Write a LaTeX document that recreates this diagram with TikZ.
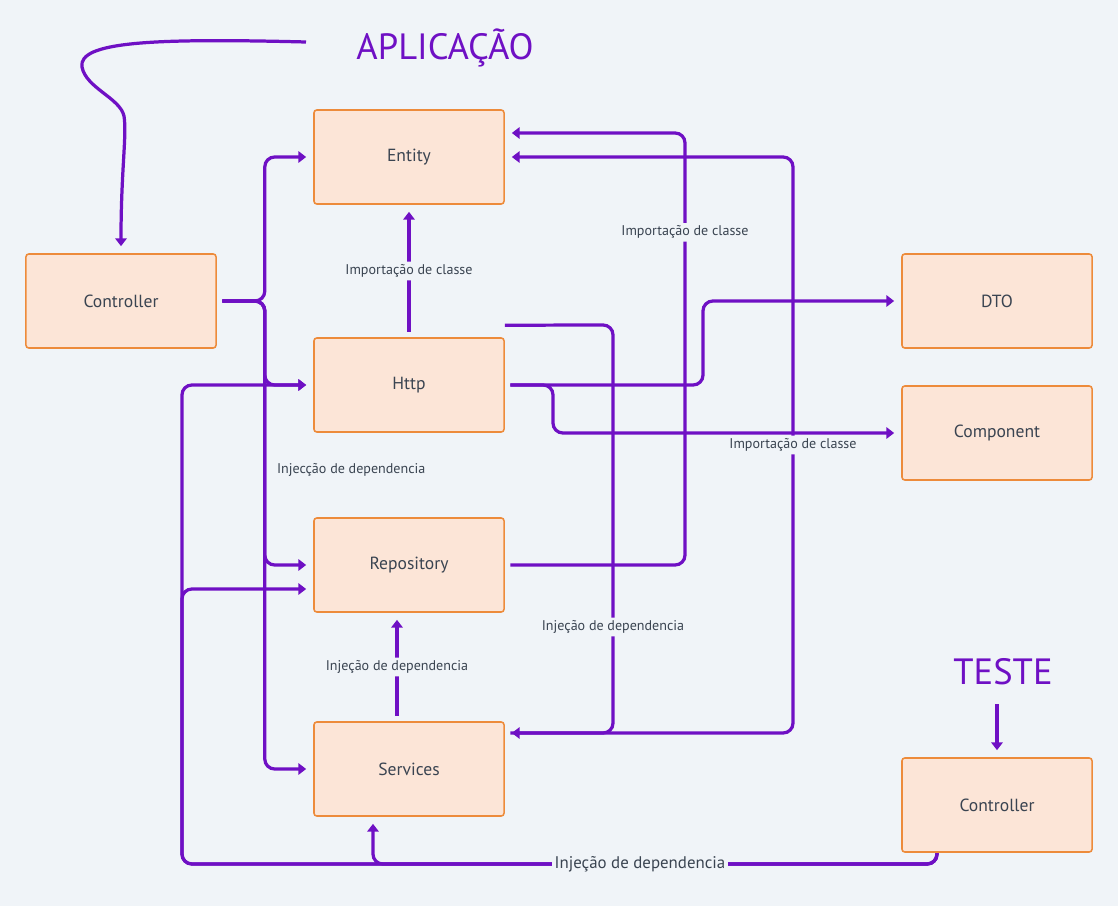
\documentclass[tikz,border=0pt]{standalone}
\usepackage{fontspec}
\setmainfont{PT Sans}
\usepackage{tikz}
\usetikzlibrary{arrows.meta,positioning}
\usepackage{xcolor}
\definecolor{bgc}{HTML}{F0F4F8}
\definecolor{boxfill}{HTML}{FCE5D7}
\definecolor{boxline}{HTML}{ED8B3B}
\definecolor{purp}{HTML}{6F10C4}
\definecolor{txt}{HTML}{3A4451}

\begin{document}
\begin{tikzpicture}[x=0.025cm, y=-0.025cm,
  box/.style={rectangle, draw=boxline, fill=boxfill, line width=1.1pt, rounded corners=2pt,
    minimum width=4.75cm, minimum height=2.35cm, text=txt, font=\fontsize{12.5}{14}\selectfont},
  link/.style={draw=purp, line width=2.3pt, rounded corners=7pt, -{Triangle[length=5.5pt,width=8pt]},
    shorten >=5pt, shorten <=4pt},
  lbl/.style={fill=bgc, text=txt, inner sep=2pt, font=\fontsize{10}{12}\selectfont},
  title/.style={text=purp, font=\fontsize{26}{30}\selectfont}]
  \fill[bgc] (0,0) rectangle (1118,906);
  \useasboundingbox (0,0) rectangle (1118,906);

  \node[title] (app) at (445,48) {APLICAÇÃO};
  \node[title] (teste) at (1003,672) {TESTE};

  \node[box] (entity) at (409,157) {Entity};
  \node[box] (ctrl) at (121,301) {Controller};
  \node[box] (http) at (409,385) {Http};
  \node[box] (repo) at (409,565) {Repository};
  \node[box] (serv) at (409,769) {Services};
  \node[box] (dto) at (997,301) {DTO};
  \node[box] (comp) at (997,433) {Component};
  \node[box] (tctrl) at (997,805) {Controller};

  \coordinate (append) at (306,42);
  \coordinate (tbot) at (937,853);
  \coordinate (ttop) at (997,704);

  % aplicacao -> controller
  \draw[link, rounded corners=0pt, shorten <=0pt] (append) .. controls (150,38) and (78,42) .. (82,67)
    .. controls (86,88) and (120,98) .. (124,116) .. controls (127,135) and (121,170) .. (ctrl.north);
  \draw[link, shorten <=0pt] (ttop) -- (tctrl.north);

  % controller -> camadas
  \foreach \t in {entity,http,repo,serv}
    \draw[link] (ctrl.east) -- ++(48,0) |- (\t.west);
  \node[lbl, fill=none, anchor=west] (injc) at (274,470) {Injecção de dependencia};

  \draw[link] (http.north) -- node[lbl] {Importação de classe} (entity.south);
  \draw[link] ([xshift=-0.3cm]serv.north) -- node[lbl] {Injeção de dependencia} ([xshift=-0.3cm]repo.south);

  % http -> dto, component
  \draw[link] (http.east) -- (703,385) |- (dto.west);
  \draw[link] (http.east) -- (553,385) |- (comp.west);

  % repository, services -> entity
  \draw[link] (repo.east) -- (685,565) -- node[lbl, pos=0.77] {Importação de classe} (685,133)
    -- ([yshift=0.6cm]entity.east);
  \draw[link] ([yshift=0.9cm]serv.east) -- (793,733) -- node[lbl, pos=0.5] {Importação de classe} (793,157)
    -- (entity.east);

  % http -> services
  \draw[link, shorten <=0pt] ([yshift=0.3cm]http.north east) -- (613,325)
    -- node[lbl, pos=0.74] {Injeção de dependencia} (613,733) -- ([yshift=0.9cm]serv.east);

  % teste -> http, repository, services
  \draw[link, shorten <=0pt] (tbot) |- (182,864) |- (http.west);
  \draw[link, shorten <=0pt] (tbot) |- (182,864) |- ([yshift=-0.6cm]repo.west);
  \draw[link, shorten <=0pt] (tbot) |- (373,864) -- ([xshift=-0.9cm]serv.south);
  \node[lbl, font=\fontsize{12}{14}\selectfont] (injb) at (640,864) {Injeção de dependencia};
\end{tikzpicture}
\end{document}
